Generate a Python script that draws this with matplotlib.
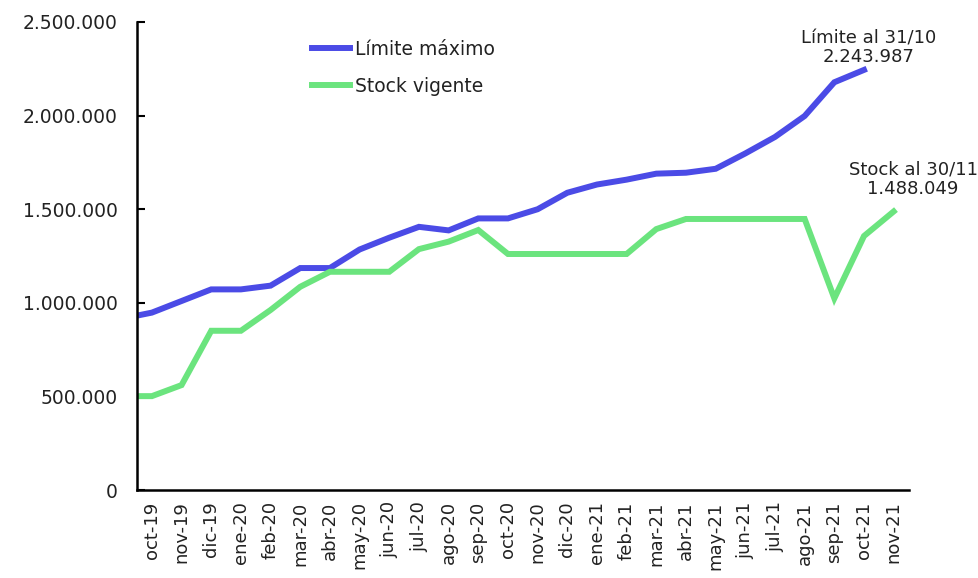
import matplotlib
matplotlib.use("Agg")
import matplotlib.pyplot as plt
from matplotlib.ticker import FuncFormatter
import numpy as np

months = ["oct-19", "nov-19", "dic-19", "ene-20", "feb-20", "mar-20", "abr-20",
          "may-20", "jun-20", "jul-20", "ago-20", "sep-20", "oct-20", "nov-20",
          "dic-20", "ene-21", "feb-21", "mar-21", "abr-21", "may-21", "jun-21",
          "jul-21", "ago-21", "sep-21", "oct-21", "nov-21"]

# first value is the starting point drawn at the left edge of the axis
limite_start = 932000
limite = [948000, 1010000, 1072000, 1072000, 1092000, 1186000, 1186000,
          1285000, 1348000, 1406000, 1387000, 1451000, 1451000, 1500000,
          1588000, 1632000, 1658000, 1690000, 1695000, 1716000, 1798000,
          1886000, 1998000, 2178000, 2243987]

stock_start = 502000
stock = [502000, 561000, 851000, 851000, 962000, 1086000, 1166000,
         1166000, 1166000, 1287000, 1327000, 1389000, 1261000, 1261000,
         1261000, 1261000, 1261000, 1394000, 1448000, 1448000, 1448000,
         1448000, 1448000, 1024000, 1357000, 1488049]

yticks = [0, 500000, 1000000, 1500000, 2000000, 2500000]

BLUE = "#4b4be6"
GREEN = "#6be47e"
TXT = "#222222"

plt.rcParams['font.family'] = ['DejaVu Sans']

fig = plt.figure(figsize=(9.79, 5.78), dpi=100)
ax = fig.add_axes([0.140, 0.152, 0.788, 0.810])

idx = np.arange(len(months))
x_l = np.concatenate([[-0.5], idx[:len(limite)]])
y_l = np.concatenate([[limite_start], limite])
x_s = np.concatenate([[-0.5], idx[:len(stock)]])
y_s = np.concatenate([[stock_start], stock])

ax.plot(x_l, y_l, color=BLUE, lw=4.3, label="Límite máximo", solid_joinstyle="miter")
ax.plot(x_s, y_s, color=GREEN, lw=4.3, label="Stock vigente", solid_joinstyle="miter")

ax.set_xlim(-0.5, len(months) - 0.5)
ax.set_ylim(0, 2500000)
ax.set_yticks(yticks)
ax.yaxis.set_major_formatter(FuncFormatter(lambda v, p: f"{int(v):,}".replace(",", ".")))
ax.set_xticks(idx)
ax.set_xticklabels(months, rotation=90, fontsize=13, color=TXT)
ax.tick_params(axis="x", length=0, pad=8)
ax.tick_params(axis="y", direction="in", length=6, width=1.5, labelsize=13.5,
               labelcolor=TXT, pad=14)

for s in ["top", "right"]:
    ax.spines[s].set_visible(False)
for s in ["left", "bottom"]:
    ax.spines[s].set_linewidth(1.8)
    ax.spines[s].set_color("black")

leg = ax.legend(loc="upper left", bbox_to_anchor=(0.205, 0.998), frameon=False,
                fontsize=13.5, handlelength=2.0, handletextpad=0.3, labelspacing=0.95)
for t in leg.get_texts():
    t.set_color(TXT)

ax.annotate("Límite al 31/10\n2.243.987", xy=(len(limite) - 1, limite[-1]),
            xytext=(3, 3), textcoords="offset points", ha="center", va="bottom",
            fontsize=13, color=TXT, linespacing=1.05)
ax.annotate("Stock al 30/11\n1.488.049", xy=(len(stock) - 1, stock[-1]),
            xytext=(14, 10), textcoords="offset points", ha="center", va="bottom",
            fontsize=13, color=TXT, linespacing=1.05, annotation_clip=False)

fig.savefig("out.png", dpi=100)
